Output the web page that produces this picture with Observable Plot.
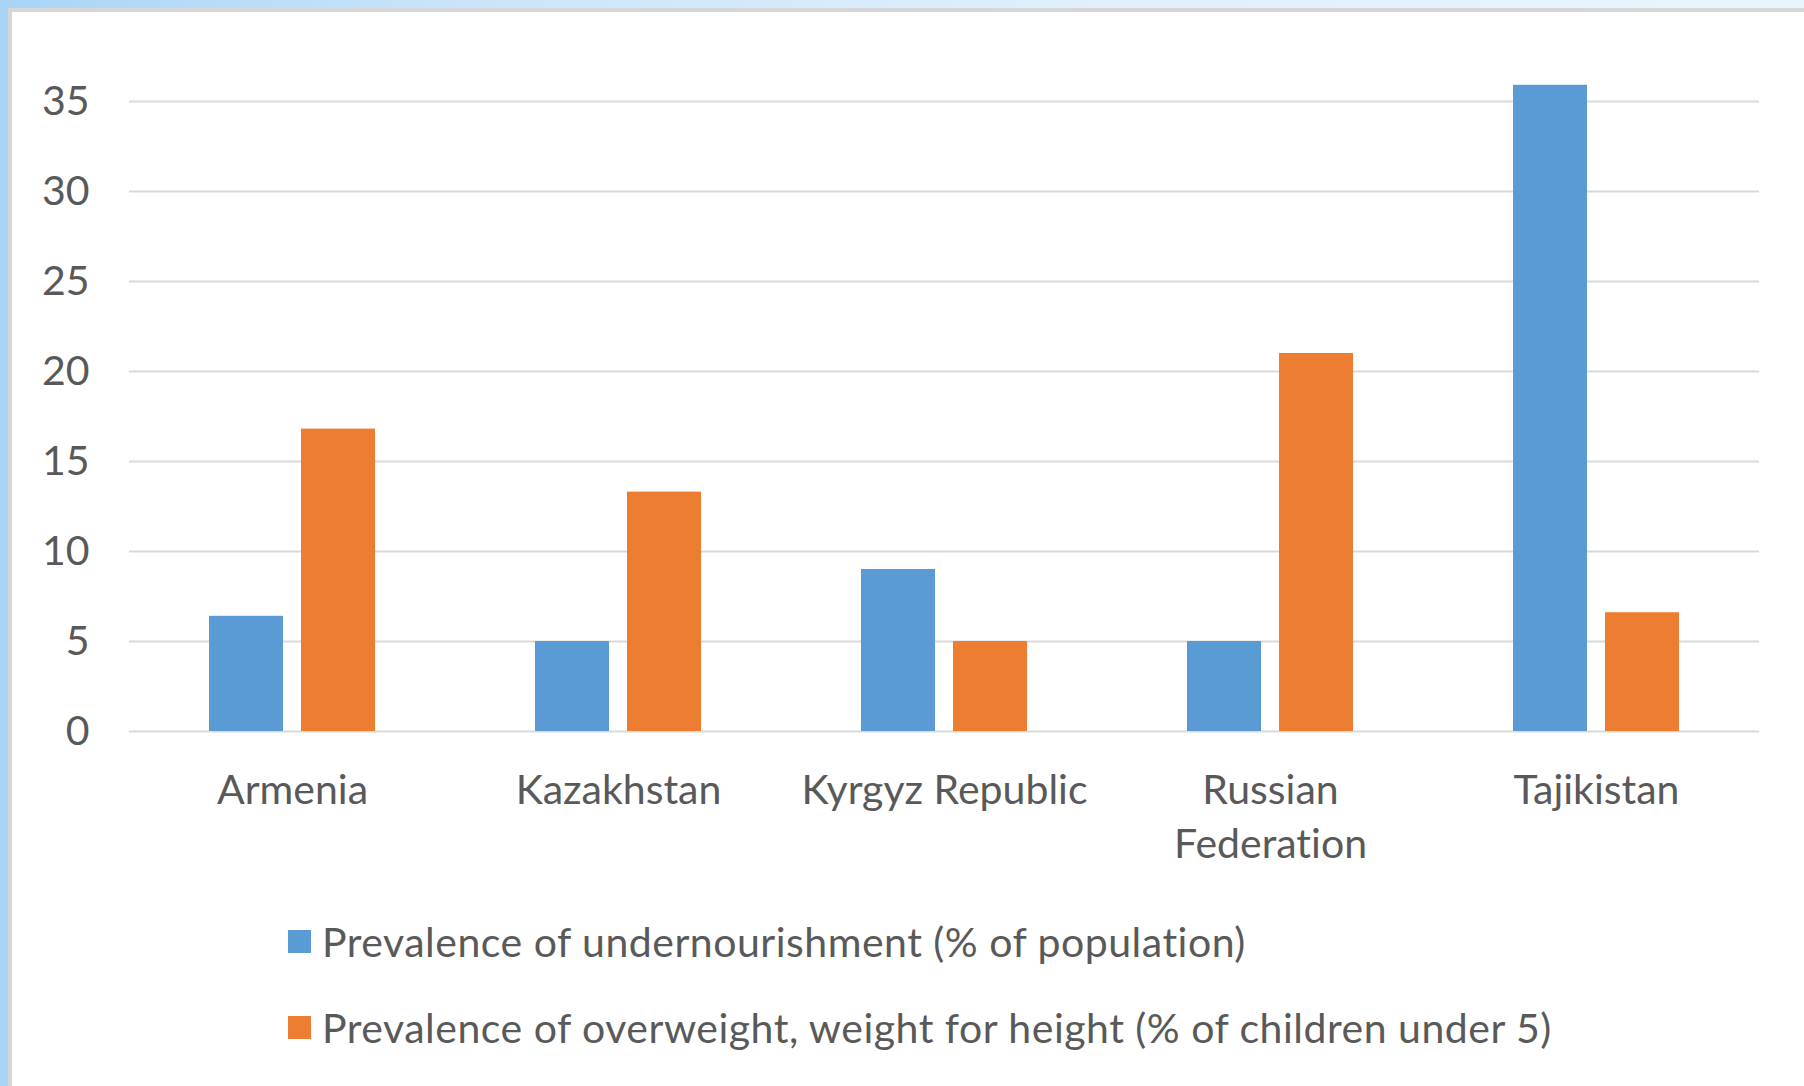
<!DOCTYPE html>
<html>
<head>
<meta charset="utf-8">
<script src="https://cdn.jsdelivr.net/npm/d3@7"></script>
<script src="https://cdn.jsdelivr.net/npm/@observablehq/plot@0.6"></script>
<style>
  html, body { margin: 0; padding: 0; }
  body {
    width: 1804px; height: 1086px; overflow: hidden; position: relative;
    background: linear-gradient(to right, #a9d4f6 0%, #c9e4fa 25%, #dff0fc 60%, #e9f5fd 100%);
    font-family: Lato, "Open Sans", sans-serif;
    font-variant-ligatures: none;
  }
  #panel {
    position: absolute; left: 8px; top: 8px; right: 0; bottom: 0;
    background: #ffffff;
    border-left: 4px solid #d6d6d6; border-top: 4px solid #d6d6d6;
  }
  #chart { position: absolute; left: 0; top: 0; }
  #chart svg text { font-variant-ligatures: none; }
  .legend-item { position: absolute; left: 288px; display: flex; align-items: center;
    font-size: 41px; letter-spacing: 0.5px; color: #595959; white-space: nowrap; }
  .swatch { width: 23px; height: 23px; margin-right: 11px; }
</style>
</head>
<body>
<div id="panel"></div>
<div id="chart"></div>
<div id="legend"></div>
<script>
// Prevalence indicators for five post-Soviet countries
const countries = ["Armenia", "Kazakhstan", "Kyrgyz Republic", "Russian Federation", "Tajikistan"];
const countryLabels = ["Armenia", "Kazakhstan", "Kyrgyz Republic", "Russian\nFederation", "Tajikistan"];
const seriesNames = [
  "Prevalence of undernourishment (% of population)",
  "Prevalence of overweight, weight for height (% of children under 5)"
];
const undernourishment = [6.4, 5.0, 9.0, 5.0, 35.9];
const overweight = [16.8, 13.3, 5.0, 21.0, 6.6];
const yTicks = [0, 5, 10, 15, 20, 25, 30, 35];
const seriesColors = ["#5b9bd5", "#ed7d31"];

const rows = countries.flatMap((c, i) => [
  {country: c, series: seriesNames[0], value: undernourishment[i]},
  {country: c, series: seriesNames[1], value: overweight[i]}
]);

const labelOf = new Map(countries.map((c, i) => [c, countryLabels[i]]));
const textColor = "#595959";

const chart = Plot.plot({
  width: 1804,
  height: 880,
  marginLeft: 129,
  marginRight: 45,
  marginTop: 83,
  marginBottom: 149,
  style: {fontFamily: "Lato, 'Open Sans', sans-serif", background: "transparent", overflow: "visible"},
  fx: {domain: countries, padding: 0, label: null},
  x: {domain: seriesNames, paddingInner: 0.1935, paddingOuter: 0.8495, axis: null},
  y: {domain: [0, 36], label: null},
  color: {domain: seriesNames, range: seriesColors},
  marks: [
    Plot.gridY(yTicks, {stroke: "#d9d9d9", strokeOpacity: 1, strokeWidth: 2}),
    Plot.axisY(yTicks, {tickSize: 0, tickPadding: 40, fontSize: 41, fill: textColor, label: null}),
    Plot.axisFx({
      anchor: "bottom", tickSize: 0, tickPadding: 33, fontSize: 41, fill: textColor, label: null,
      lineHeight: 1.34, tickFormat: (d) => labelOf.get(d)
    }),
    Plot.barY(rows, {fx: "country", x: "series", y: "value", fill: "series"})
  ]
});
document.getElementById("chart").appendChild(chart);

// Legend below the chart, one series per line
const legend = document.getElementById("legend");
const legendTops = [930, 1016];
seriesNames.forEach((name, i) => {
  const item = document.createElement("div");
  item.className = "legend-item";
  item.style.top = (legendTops[i] - 14) + "px";
  item.style.height = "51px";
  const sw = document.createElement("div");
  sw.className = "swatch";
  sw.style.background = seriesColors[i];
  const tx = document.createElement("span");
  tx.textContent = name;
  item.appendChild(sw);
  item.appendChild(tx);
  legend.appendChild(item);
});
</script>
</body>
</html>
